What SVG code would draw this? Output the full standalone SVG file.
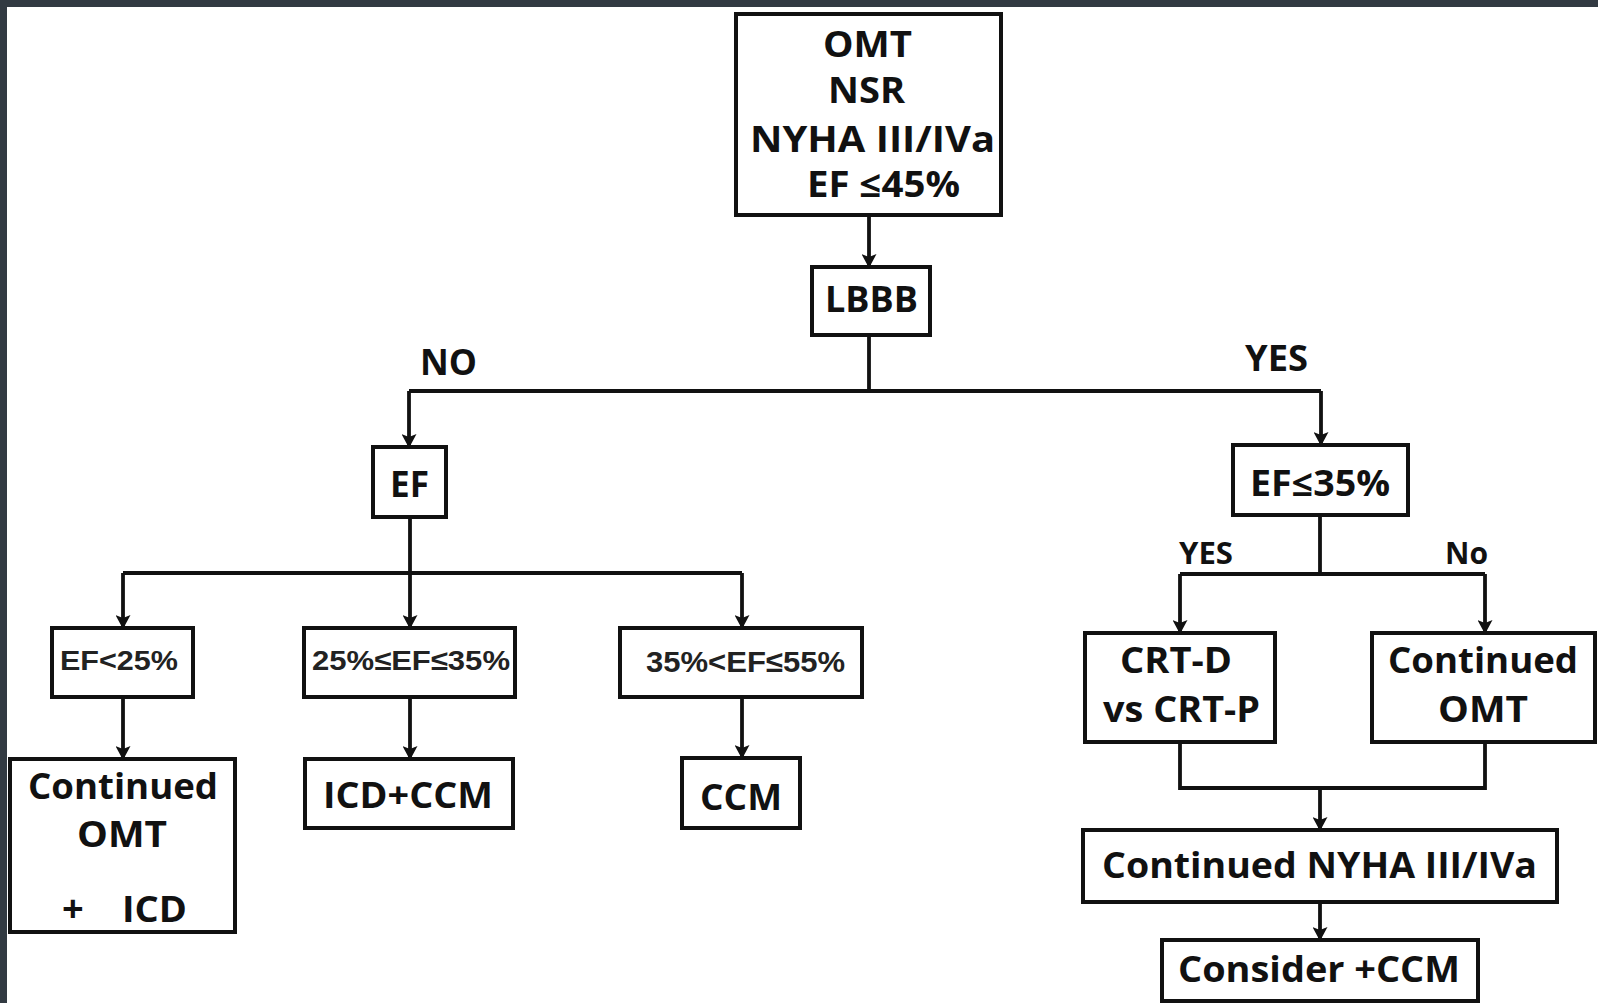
<svg xmlns="http://www.w3.org/2000/svg" width="1598" height="1003" viewBox="0 0 1598 1003">
<style>
.bx{fill:#fff;stroke:#111;stroke-width:4}
.ln{fill:none;stroke:#111;stroke-width:3.8}
.t{font-family:"Open Sans","Liberation Sans",sans-serif;font-weight:700;font-size:35px;fill:#111}
.s{font-family:"Liberation Sans",Arial,sans-serif;font-weight:700;font-size:28px;fill:#222}
</style>
<defs>
<marker id="ah" viewBox="0 0 14 15" refX="13" refY="7.5" markerWidth="14" markerHeight="15" markerUnits="userSpaceOnUse" orient="auto">
<path d="M0,0 L14,7.5 L0,15 L3,7.5 z" fill="#111"/>
</marker>
</defs>
<rect x="0" y="0" width="1598" height="1003" fill="#fff"/>
<rect x="0" y="0" width="1598" height="7" fill="#323a42"/>
<rect x="0" y="0" width="7" height="1003" fill="#323a42"/>

<g id="connectors">
<path class="ln" d="M869,215 V267" marker-end="url(#ah)"/>
<path class="ln" d="M869,335 V391 M409,391 H1321"/>
<path class="ln" d="M409,391 V447" marker-end="url(#ah)"/>
<path class="ln" d="M1321,391 V445" marker-end="url(#ah)"/>
<path class="ln" d="M410,517 V573 M123,573 H742"/>
<path class="ln" d="M123,573 V628" marker-end="url(#ah)"/>
<path class="ln" d="M410,573 V628" marker-end="url(#ah)"/>
<path class="ln" d="M742,573 V628" marker-end="url(#ah)"/>
<path class="ln" d="M1320,515 V574 M1180,574 H1485"/>
<path class="ln" d="M1180,574 V633" marker-end="url(#ah)"/>
<path class="ln" d="M1485,574 V633" marker-end="url(#ah)"/>
<path class="ln" d="M123,697 V759" marker-end="url(#ah)"/>
<path class="ln" d="M410,697 V759" marker-end="url(#ah)"/>
<path class="ln" d="M742,697 V758" marker-end="url(#ah)"/>
<path class="ln" d="M1180,742 V788 H1485 V742"/>
<path class="ln" d="M1320,788 V830" marker-end="url(#ah)"/>
<path class="ln" d="M1320,902 V940" marker-end="url(#ah)"/>
<text class="t" x="420" y="375" textLength="57" lengthAdjust="spacingAndGlyphs">NO</text>
<text class="t" x="1245" y="371" textLength="63" lengthAdjust="spacingAndGlyphs">YES</text>
<text class="t" x="1179" y="564" style="font-size:30px" textLength="54" lengthAdjust="spacingAndGlyphs">YES</text>
<text class="t" x="1445" y="564" style="font-size:30px" textLength="43" lengthAdjust="spacingAndGlyphs">No</text>
</g>

<g id="start">
<rect class="bx" x="736" y="14" width="265" height="201"/>
<text class="t" x="823" y="57" textLength="89" lengthAdjust="spacingAndGlyphs">OMT</text>
<text class="t" x="828" y="103" textLength="77" lengthAdjust="spacingAndGlyphs">NSR</text>
<text class="t" x="750" y="152" textLength="245" lengthAdjust="spacingAndGlyphs">NYHA III/IVa</text>
<text class="t" x="807" y="197" textLength="153" lengthAdjust="spacingAndGlyphs">EF ≤45%</text>
</g>
<g id="lbbb">
<rect class="bx" x="812" y="267" width="118" height="68"/>
<text class="t" x="825" y="312" textLength="93" lengthAdjust="spacingAndGlyphs">LBBB</text>
</g>
<g id="ef">
<rect class="bx" x="373" y="447" width="73" height="70"/>
<text class="t" x="390" y="497" textLength="39" lengthAdjust="spacingAndGlyphs">EF</text>
</g>
<g id="ef35">
<rect class="bx" x="1233" y="445" width="175" height="70"/>
<text class="t" x="1250" y="496" textLength="140" lengthAdjust="spacingAndGlyphs">EF≤35%</text>
</g>
<g id="ef-lt25">
<rect class="bx" x="52" y="628" width="141" height="69"/>
<text class="s" x="60" y="670" textLength="118" lengthAdjust="spacingAndGlyphs">EF&lt;25%</text>
</g>
<g id="ef-25-35">
<rect class="bx" x="304" y="628" width="211" height="69"/>
<text class="s" x="312" y="670" textLength="198" lengthAdjust="spacingAndGlyphs">25%≤EF≤35%</text>
</g>
<g id="ef-35-55">
<rect class="bx" x="620" y="628" width="242" height="69"/>
<text class="s" x="646" y="672" style="font-size:30px" textLength="199" lengthAdjust="spacingAndGlyphs">35%&lt;EF≤55%</text>
</g>
<g id="crt">
<rect class="bx" x="1085" y="633" width="190" height="109"/>
<text class="t" x="1120" y="673" textLength="112" lengthAdjust="spacingAndGlyphs">CRT-D</text>
<text class="t" x="1103" y="722" textLength="157" lengthAdjust="spacingAndGlyphs">vs CRT-P</text>
</g>
<g id="omt-right">
<rect class="bx" x="1372" y="633" width="223" height="109"/>
<text class="t" x="1388" y="673" textLength="190" lengthAdjust="spacingAndGlyphs">Continued</text>
<text class="t" x="1438" y="722" textLength="90" lengthAdjust="spacingAndGlyphs">OMT</text>
</g>
<g id="omt-icd">
<rect class="bx" x="10" y="759" width="225" height="173"/>
<text class="t" x="28" y="799" textLength="190" lengthAdjust="spacingAndGlyphs">Continued</text>
<text class="t" x="77" y="847" textLength="90" lengthAdjust="spacingAndGlyphs">OMT</text>
<text class="t" y="922" style="font-size:38px"><tspan x="62">+</tspan> <tspan x="122" style="font-size:35px" textLength="65" lengthAdjust="spacingAndGlyphs">ICD</tspan></text>
</g>
<g id="icd-ccm">
<rect class="bx" x="305" y="759" width="208" height="69"/>
<text class="t" x="323" y="808" textLength="170" lengthAdjust="spacingAndGlyphs">ICD+CCM</text>
</g>
<g id="ccm">
<rect class="bx" x="682" y="758" width="118" height="70"/>
<text class="t" x="700" y="810" textLength="82" lengthAdjust="spacingAndGlyphs">CCM</text>
</g>
<g id="nyha">
<rect class="bx" x="1083" y="830" width="474" height="72"/>
<text class="t" x="1102" y="878" textLength="435" lengthAdjust="spacingAndGlyphs">Continued NYHA III/IVa</text>
</g>
<g id="consider">
<rect class="bx" x="1162" y="940" width="316" height="61"/>
<text class="t" x="1178" y="982" style="font-size:36px" textLength="282" lengthAdjust="spacingAndGlyphs">Consider +CCM</text>
</g>
</svg>
